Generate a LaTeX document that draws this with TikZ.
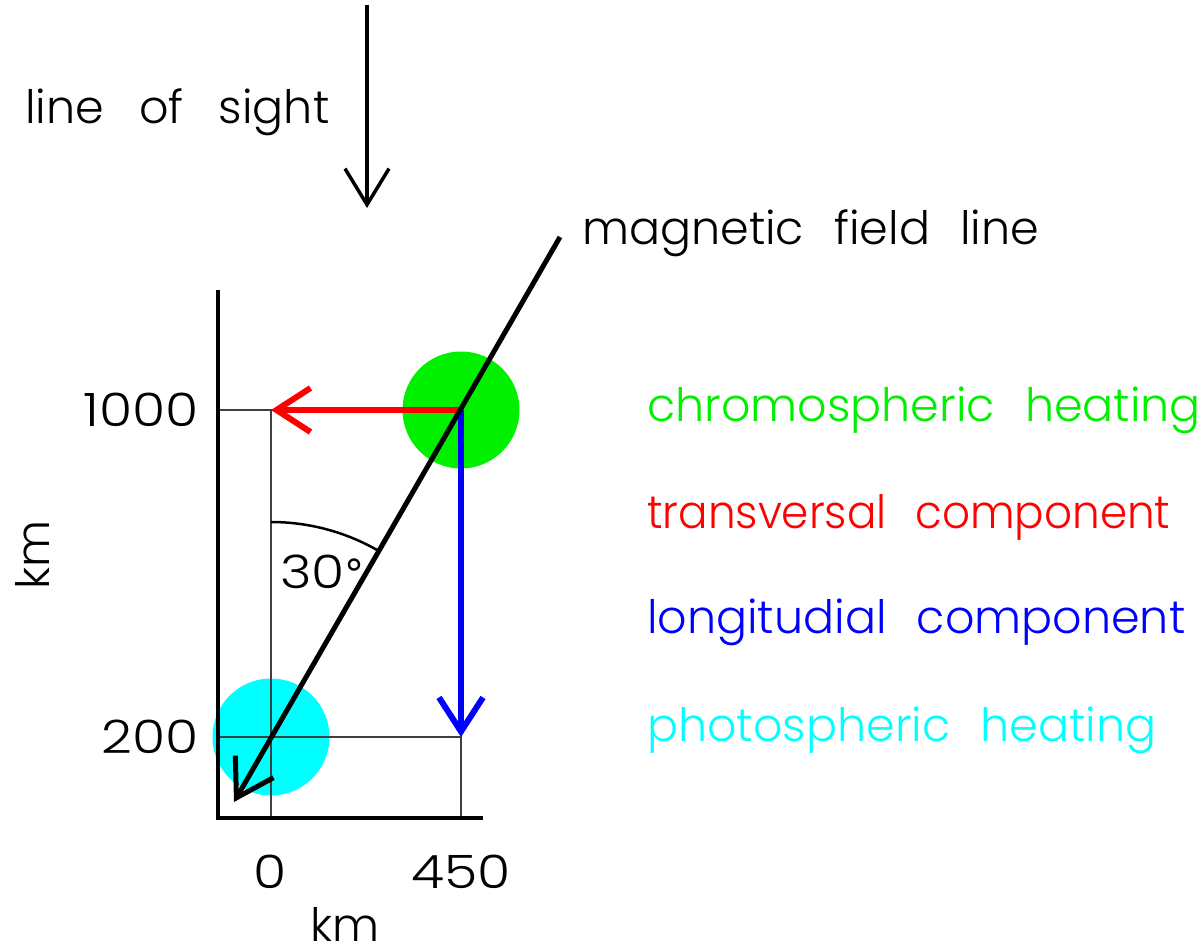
\documentclass[tikz,border=0pt]{standalone}
\usepackage{fontspec}
\setmainfont{Poppins}[UprightFont={* Light}, WordSpace={2.4,0,0}]
\newfontfamily\degfont{DejaVu Sans}
\usetikzlibrary{arrows.meta}
\definecolor{cgreen}{RGB}{0,240,0}
\definecolor{ccyan}{RGB}{0,255,255}
\definecolor{cblue}{RGB}{0,0,255}
\definecolor{cred}{RGB}{255,0,0}
\newcommand{\lblfont}{\fontsize{46}{48}\selectfont}
\tikzset{
  lbl/.style={font=\lblfont, inner sep=0pt},
  thinline/.style={line width=1.3pt, black!75},
  axisline/.style={line width=4pt, black},
  vec/.style={line width=6pt, -{Straight Barb[length=34pt,width=44pt,line width=6pt]}},
  blob/.style={circle, minimum size=117pt, inner sep=0pt},
}
\newcommand{\widetxt}[1]{\scalebox{1.17}[1]{#1}}
\begin{document}
\begin{tikzpicture}[x=1pt,y=-1pt]
\useasboundingbox (0,0) rectangle (1200,952);
% coordinates
\coordinate (O) at (271,737);
\coordinate (P) at (461,410);
\coordinate (T) at (271,410);
\coordinate (B) at (461,737);
\coordinate (Ytop) at (218,290);
\coordinate (Ybot) at (218,818);
\coordinate (Xend) at (483,818);
\coordinate (F1) at (560,237);
\coordinate (F2) at (234,802);
\coordinate (L1) at (367,5);
\coordinate (L2) at (367,208);
% circles
\node[blob, fill=cgreen] (gc) at (P) {};
\node[blob, fill=ccyan] (cc) at (O) {};
% thin grid lines
\draw[thinline] (218,410) -- (T) -- (271,818);
\draw[thinline] (218,737) -- (B) -- (461,818);
% axes
\draw[axisline] (Ytop) -- (Ybot) -- (Xend);
% angle arc
\draw[line width=2.5pt] (271,522) arc[start angle=-90, end angle=-60, radius=215];
\node[lbl, anchor=west] (ang) at (280,572) {\widetxt{30}{\degfont\fontsize{40}{42}\selectfont °}};
% vectors
\draw[vec, cred] (P) -- (T);
\draw[vec, cblue] (P) -- (B);
\draw[line width=5pt, -{Straight Barb[length=36pt,width=44pt,line width=5pt]}] (F1) -- (F2);
\draw[line width=3.5pt, -{Straight Barb[length=36pt,width=44pt,line width=3.5pt]}] (L1) -- (L2);
% labels
\node[lbl, anchor=east] (y1000) at (199,410) {\widetxt{1000}};
\node[lbl, anchor=east] (y200) at (199,737) {\widetxt{200}};
\node[lbl, anchor=base] (x0) at (270,888) {\widetxt{0}};
\node[lbl, anchor=base] (x450) at (461,888) {\widetxt{450}};
\node[lbl, anchor=base] (xkm) at (345,941) {km};
\node[lbl, rotate=90] (ykm) at (32,555) {km};
\node[lbl, anchor=west] (los) at (25,112) {line\hspace{5pt} of\hspace{5pt} sight};
\node[lbl, anchor=west] (mfl) at (582,233) {magnetic field line};
\node[lbl, anchor=west, text=cgreen] (l1) at (647,410) {chromospheric heating};
\node[lbl, anchor=west, text=cred] (l2) at (647,517) {\scalebox{0.95}[1]{transversal component}};
\node[lbl, anchor=west, text=cblue] (l3) at (647,622) {longitudial component};
\node[lbl, anchor=west, text=ccyan] (l4) at (647,730) {photospheric heating};
\end{tikzpicture}
\end{document}
